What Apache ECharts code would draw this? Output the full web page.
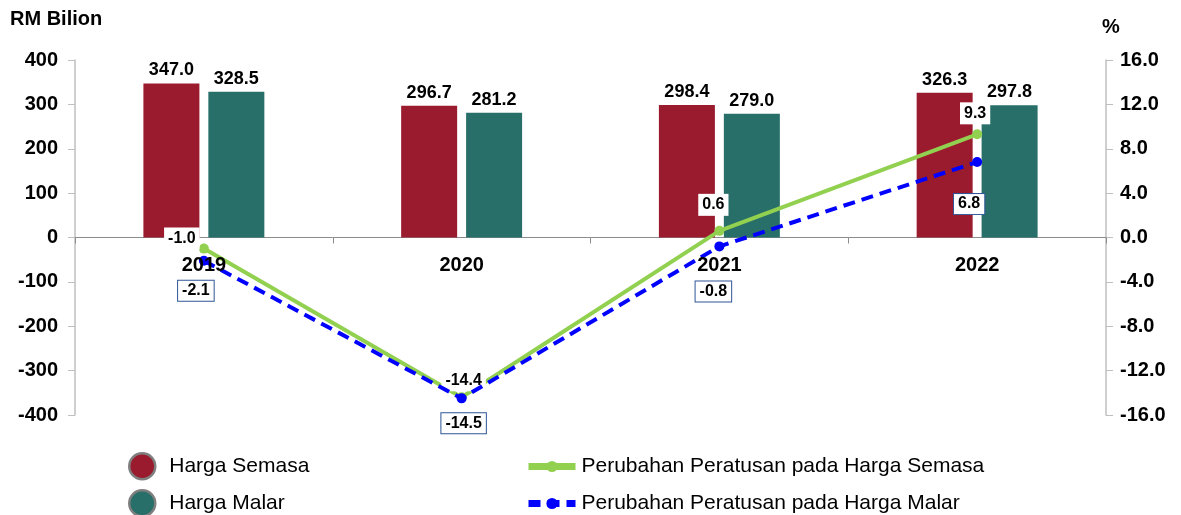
<!DOCTYPE html>
<html>
<head>
<meta charset="utf-8">
<script src="https://cdn.jsdelivr.net/npm/echarts@6/dist/echarts.min.js"></script>
<style>
  html, body { margin: 0; padding: 0; background: #fff; }
  #chart { width: 1181px; height: 515px; }
</style>
</head>
<body>
<div id="chart"></div>
<script>
// data
const years = ['2019', '2020', '2021', '2022'];
const hargaSemasa = [347.0, 296.7, 298.4, 326.3];
const hargaMalar = [328.5, 281.2, 279.0, 297.8];
const pctSemasa = [-1.0, -14.4, 0.6, 9.3];
const pctMalar = [-2.1, -14.5, -0.8, 6.8];

const leftTicks = { min: -400, max: 400, interval: 100 };
const rightTicks = { min: -16, max: 16, interval: 4 };

const font = 'Liberation Sans, Arial, sans-serif';
const RED = '#9A1B2E';
const TEAL = '#276F68';
const LIME = '#92D050';
const BLUE = '#0000FF';

const SEMASA = 'Harga Semasa';
const MALAR = 'Harga Malar';
const PCT_SEMASA = 'Perubahan Peratusan pada Harga Semasa';
const PCT_MALAR = 'Perubahan Peratusan pada Harga Malar';

// label placement tweaks, per point
const semasaOffsets = [[-22, 16], [2, 9], [-6, 0], [-2, 5]];
const malarOffsets = [[-8, 5], [2, 0], [-6, 20], [-8, 17]];

function lineData(values, offsets) {
  return values.map((v, i) => ({
    value: v,
    label: { offset: offsets[i] }
  }));
}

function legendItem(name, left, top, lineIcon) {
  let lg = {
    left: left, top: top,
    data: [name],
    itemGap: 0
  };
  if (lineIcon) {
    lg.itemWidth = 47;
    lg.itemHeight = 14;
    lg.lineStyle = { width: 7 };
    lg.textStyle = { fontSize: 21, color: '#000', fontFamily: font, padding: [0, 0, 0, 1] };
  } else {
    lg.icon = 'circle';
    lg.itemWidth = 26;
    lg.itemHeight = 26;
    lg.itemStyle = { borderColor: '#7F7F7F', borderWidth: 2.5 };
    lg.textStyle = { fontSize: 21, color: '#000', fontFamily: font, padding: [0, 0, 0, 9] };
  }
  return lg;
}

var chart = echarts.init(document.getElementById('chart'));

var option = {
  animation: false,
  textStyle: { fontFamily: font },
  grid: [
    { left: 75, right: 75, top: 60, bottom: 100 },
    // upper half, only used to place the year labels just under the zero line
    { left: 75, right: 75, top: 60, bottom: 277.5 }
  ],
  graphic: [
    { type: 'text', left: 10, top: 9, style: { text: 'RM Bilion', font: 'bold 20px ' + font, fill: '#000' } },
    { type: 'text', left: 1102, top: 17, style: { text: '%', font: 'bold 20px ' + font, fill: '#000' } }
  ],
  legend: [
    legendItem(SEMASA, 123, 447, false),
    legendItem(MALAR, 123, 484, false),
    legendItem(PCT_SEMASA, 520, 451, true),
    legendItem(PCT_MALAR, 520, 488, true)
  ],
  xAxis: [
    {
      type: 'category',
      data: years,
      axisLine: { onZero: true, lineStyle: { color: '#8C8C8C', width: 1 } },
      axisTick: { show: true, length: 6, lineStyle: { color: '#8C8C8C' } },
      axisLabel: { show: false },
      splitLine: { show: false }
    },
    {
      type: 'category',
      gridIndex: 1,
      data: years,
      axisLine: { show: false },
      axisTick: { show: false },
      axisLabel: { fontSize: 20, fontWeight: 'bold', color: '#000', margin: 18 },
      splitLine: { show: false },
      z: 10
    }
  ],
  yAxis: [
    {
      type: 'value',
      min: leftTicks.min, max: leftTicks.max, interval: leftTicks.interval,
      axisLine: { show: true, lineStyle: { color: '#BFBFBF', width: 1.5 } },
      axisTick: { show: true, length: 7, lineStyle: { color: '#BFBFBF' } },
      axisLabel: { fontSize: 20, fontWeight: 'bold', color: '#000', margin: 17 },
      splitLine: { show: false }
    },
    {
      type: 'value',
      min: rightTicks.min, max: rightTicks.max, interval: rightTicks.interval,
      axisLine: { show: true, lineStyle: { color: '#BFBFBF', width: 1.5 } },
      axisTick: { show: true, length: 7, lineStyle: { color: '#BFBFBF' } },
      axisLabel: {
        fontSize: 20, fontWeight: 'bold', color: '#000', margin: 14,
        formatter: v => v.toFixed(1)
      },
      splitLine: { show: false }
    },
    {
      type: 'value', gridIndex: 1, min: 0, max: 1, show: false
    }
  ],
  series: [
    {
      name: SEMASA,
      type: 'bar',
      data: hargaSemasa,
      barWidth: 56,
      barGap: '16%',
      itemStyle: { color: RED },
      label: {
        show: true, position: 'top', distance: 4,
        fontSize: 18, fontWeight: 'bold', color: '#000',
        formatter: p => p.value.toFixed(1)
      }
    },
    {
      name: MALAR,
      type: 'bar',
      data: hargaMalar,
      barWidth: 56,
      itemStyle: { color: TEAL },
      label: {
        show: true, position: 'top', distance: 4,
        fontSize: 18, fontWeight: 'bold', color: '#000',
        formatter: p => p.value.toFixed(1)
      }
    },
    {
      name: PCT_SEMASA,
      type: 'line',
      yAxisIndex: 1,
      data: lineData(pctSemasa, semasaOffsets),
      symbol: 'circle',
      symbolSize: 10,
      z: 4,
      lineStyle: { color: LIME, width: 4 },
      itemStyle: { color: LIME },
      label: {
        show: true, position: 'top', distance: 10,
        fontSize: 16, fontWeight: 'bold', color: '#000',
        backgroundColor: '#fff', padding: [3, 4],
        formatter: p => p.value.toFixed(1)
      }
    },
    {
      name: PCT_MALAR,
      type: 'line',
      yAxisIndex: 1,
      data: lineData(pctMalar, malarOffsets),
      symbol: 'circle',
      symbolSize: 10,
      z: 5,
      lineStyle: { color: BLUE, width: 4, type: [12, 7] },
      itemStyle: { color: BLUE },
      label: {
        show: true, position: 'bottom', distance: 10,
        fontSize: 16, fontWeight: 'bold', color: '#000',
        backgroundColor: '#fff', borderColor: '#2F5597', borderWidth: 1,
        padding: [2, 4],
        formatter: p => p.value.toFixed(1)
      }
    }
  ]
};

chart.setOption(option);
</script>
</body>
</html>
